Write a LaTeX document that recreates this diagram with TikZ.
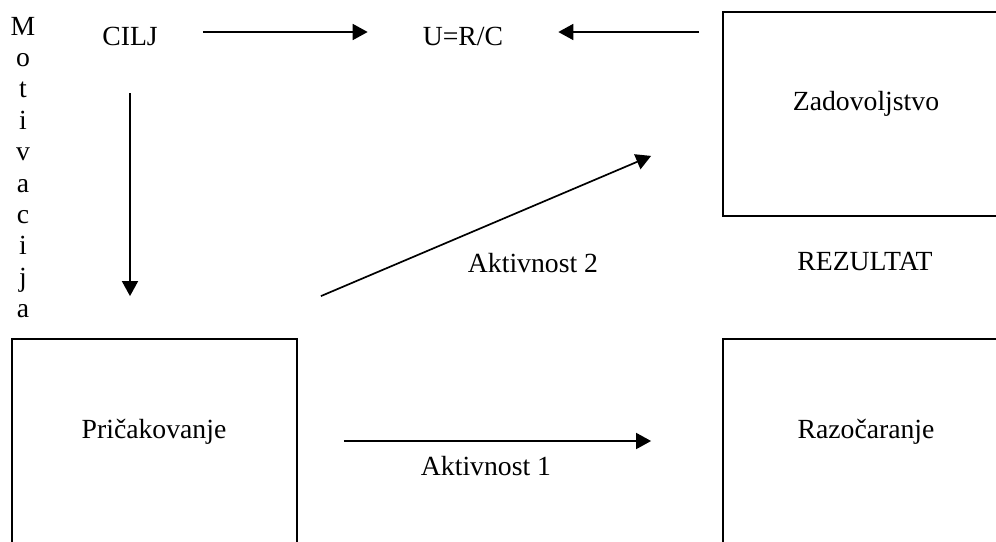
\documentclass[tikz,border=0pt]{standalone}
\usepackage{fontspec}
\setmainfont{Liberation Serif}
\usetikzlibrary{arrows.meta,calc}

\tikzset{
  x=1pt, y=-1pt,
  txt/.style={inner sep=0pt, anchor=base, font=\fontsize{27.7}{33}\selectfont},
  panel/.style={draw, line width=1.8pt, rectangle, inner sep=0pt,
                minimum width=287pt, minimum height=204pt},
  arr/.style={line width=1.7pt, -{Triangle[length=15pt,width=16pt]}}
}

\begin{document}
\begin{tikzpicture}
  \useasboundingbox (0,0) rectangle (996,541);
  \clip (0,0) rectangle (996,541);

  % three panels (the right-hand and lower ones run off the page edge)
  \node[panel, minimum width=285pt] (prik) at (154.5,441) {};
  \node[panel] (zad) at (866.5,114) {};
  \node[panel] (raz) at (866.5,441) {};

  % panel captions
  \node[txt] (prikt) at (154,438) {Pričakovanje};
  \node[txt] (zadt)  at (866,110) {Zadovoljstvo};
  \node[txt] (razt)  at (866,438) {Razočaranje};

  % free-standing labels
  \node[txt] (cilj) at (130,45) {CILJ};
  \node[txt] (urc)  at (463,45) {U=R/C};
  \node[txt] (akt2) at (533,272) {Aktivnost 2};
  \node[txt] (akt1) at (486,475) {Aktivnost 1};
  \node[txt] (rez)  at (865,270) {REZULTAT};

  % vertical word down the left margin
  \foreach \ch [count=\i] in {M,o,t,i,v,a,c,i,j,a}
    \node[txt] (mot\i) at (23,{35+31.4*(\i-1)}) {\ch};

  % connectors
  \coordinate (topline) at (0,32);
  \draw[arr, shorten <=45pt, shorten >=55pt] (cilj.east |- topline) -- (urc.west |- topline);
  \draw[arr, shorten <=23pt, shorten >=55pt] (zad.west |- topline) -- (urc.east |- topline);
  \draw[arr, shorten <=48pt, shorten >=42pt] (cilj.south) -- (cilj.south |- prik.north);
  \draw[arr, shorten <=46pt, shorten >=71pt] (prik) -- (raz);
  \coordinate (a2from) at ($(prik.north east)+(23,-42)$);
  \coordinate (a2to)   at ($(zad.south west)+(-71,-61)$);
  \draw[arr] (a2from) -- (a2to);
\end{tikzpicture}
\end{document}
